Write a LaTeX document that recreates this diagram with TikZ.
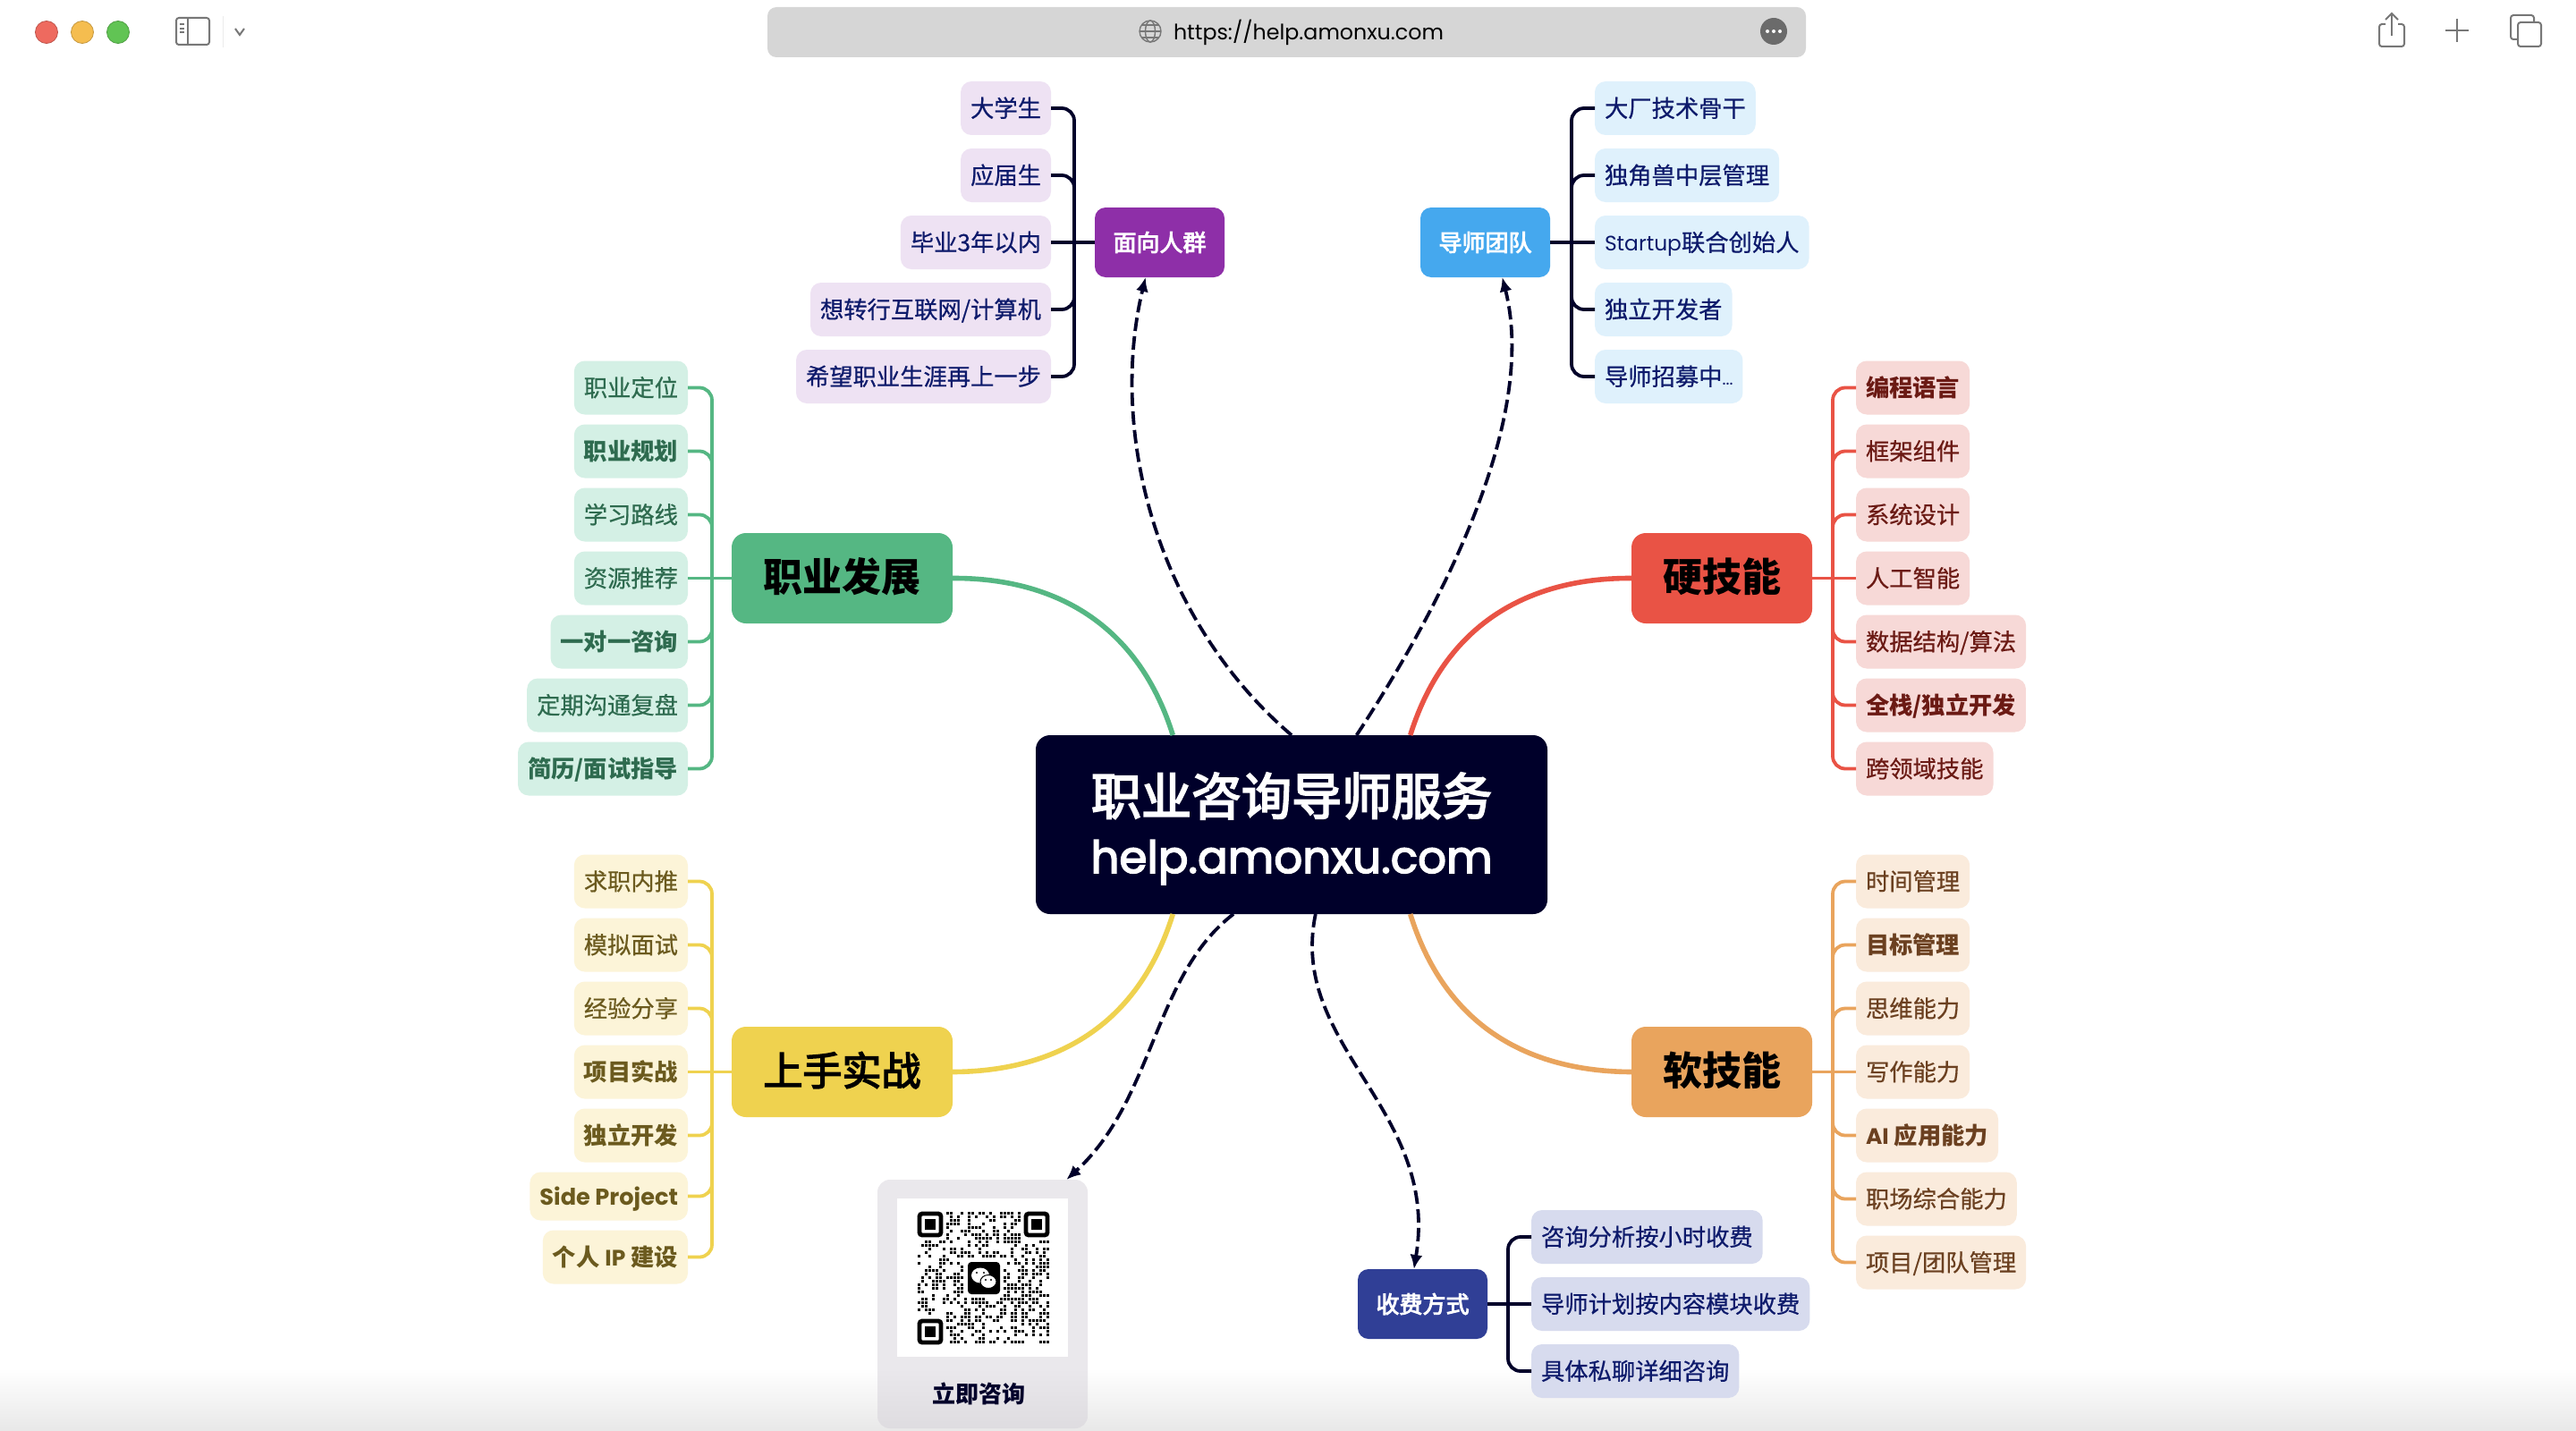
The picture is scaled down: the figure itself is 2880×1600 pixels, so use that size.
\documentclass[tikz,border=0pt]{standalone}
\usepackage{fontspec}
\usepackage{xcolor}
\usepackage{tikz}
\usetikzlibrary{
    arrows.meta,
    positioning,
    calc
}
\setmainfont{Noto Sans CJK SC}
\newfontfamily\latfont[Scale=0.95]{Poppins}
\newfontfamily\leaffont[FakeBold=0.6]{Noto Sans CJK SC}
\newfontfamily\midfont[FakeBold=3.5]{Noto Sans CJK SC}
\newfontfamily\hublat[FakeBold=3]{Poppins}
\newcommand{\lat}[1]{{\latfont #1}}

\definecolor{ink}{HTML}{00002A}
\definecolor{grass}{HTML}{55B783}
\definecolor{grassfill}{HTML}{D4F0E5}
\definecolor{grasstext}{HTML}{2E6B4F}
\definecolor{tomato}{HTML}{E95345}
\definecolor{tomatofill}{HTML}{F7D9D7}
\definecolor{tomatotext}{HTML}{6B1A14}
\definecolor{amber}{HTML}{E9A45D}
\definecolor{amberfill}{HTML}{FAEBDC}
\definecolor{ambertext}{HTML}{6B4020}
\definecolor{butter}{HTML}{EFD24F}
\definecolor{butterfill}{HTML}{FCF4D8}
\definecolor{buttertext}{HTML}{6B5A1E}
\definecolor{violet}{HTML}{8E2FA8}
\definecolor{violetfill}{HTML}{EEE2F3}
\definecolor{sky}{HTML}{45A8EE}
\definecolor{skyfill}{HTML}{DFF1FC}
\definecolor{royal}{HTML}{303F96}
\definecolor{royalfill}{HTML}{D7DBEE}
\definecolor{inktext}{HTML}{0D1A6B}
\definecolor{cardgrey}{HTML}{EAE8EC}
\definecolor{cardshade}{HTML}{DEDCE0}
\definecolor{barfill}{HTML}{D6D6D6}
\definecolor{iconline}{HTML}{777777}
\definecolor{lampred}{HTML}{EE6A5F}
\definecolor{lampamber}{HTML}{F5BD4F}
\definecolor{lampgreen}{HTML}{61C454}

\begin{document}
\begin{tikzpicture}[
        x=0.5pt,
        y=-0.5pt,
        node distance=5.5pt,
        every node/.style={outer sep=0pt},
        hubnode/.style={
            rectangle,
            rounded corners=8pt,
            fill=ink,
            text=white,
            align=center,
            minimum width=286pt,
            minimum height=100pt,
            font=\fontsize{28}{35}\selectfont\midfont
        },
        branch/.style={
            rectangle,
            rounded corners=8pt,
            inner sep=0pt,
            minimum height=50.5pt,
            text height=19.4pt,
            text depth=4.4pt,
            text=black,
            font=\fontsize{22}{22}\selectfont\bfseries
        },
        topic/.style={
            rectangle,
            rounded corners=6pt,
            inner sep=0pt,
            minimum width=72.5pt,
            minimum height=39pt,
            text=white,
            font=\fontsize{13}{13}\selectfont\midfont
        },
        leaf/.style={
            rectangle,
            rounded corners=6pt,
            inner xsep=5.5pt,
            inner ysep=0pt,
            minimum height=30pt,
            text height=11.4pt,
            text depth=1.6pt,
            font=\fontsize{13.15}{13.15}\selectfont\leaffont
        },
        strong/.style={
            font=\fontsize{13.15}{13.15}\selectfont\bfseries
        },
        grassleaf/.style={leaf, fill=grassfill, text=grasstext},
        tomatoleaf/.style={leaf, fill=tomatofill, text=tomatotext},
        amberleaf/.style={leaf, fill=amberfill, text=ambertext},
        butterleaf/.style={leaf, fill=butterfill, text=buttertext},
        violetleaf/.style={leaf, node distance=7.5pt, fill=violetfill, text=inktext},
        skyleaf/.style={leaf, node distance=7.5pt, fill=skyfill, text=inktext},
        royalleaf/.style={leaf, node distance=7.5pt, fill=royalfill, text=inktext},
        riseL/.style={above=of #1.north east, anchor=south east},
        dropL/.style={below=of #1.south east, anchor=north east},
        riseR/.style={above=of #1.north west, anchor=south west},
        dropR/.style={below=of #1.south west, anchor=north west},
        twig/.style={
            draw=#1,
            rounded corners=7pt,
            line width=1.9pt
        },
        limb/.style={
            draw=#1,
            line width=2.8pt
        },
        link/.style={
            draw=ink,
            line width=1.9pt,
            dash pattern=on 7.5pt off 3pt,
            -{Latex[length=8pt,width=7pt]}
        },
        icon/.style={
            draw=iconline,
            line width=1pt,
            rounded corners=1.5pt
        },
        lamp/.style={
            circle,
            minimum size=12.5pt,
            inner sep=0pt,
            line width=0.4pt
        },
        finder/.style={
            draw=black,
            fill=white,
            line width=2.4pt,
            rounded corners=1.5pt
        }
    ]

    \useasboundingbox (0,0) rectangle (2880,1600);
    \fill[white] (0,0) rectangle (2880,1600);
    \shade[top color=white, bottom color=black!9] (0,1530) rectangle (2880,1600);

    \node[lamp, fill=lampred, draw=lampred!80!black] (closelamp) at (52,36) {};
    \node[lamp, fill=lampamber, draw=lampamber!80!black] (minlamp) at (92,36) {};
    \node[lamp, fill=lampgreen, draw=lampgreen!80!black] (maxlamp) at (132,36) {};
    \draw[icon] (197,20) rectangle (234,50);
    \draw[iconline, line width=1pt] (210,20) -- (210,50);
    \foreach \dotrow in {27,32,36}
        \draw[iconline, line width=0.8pt] (201,\dotrow) -- (206,\dotrow);
    \draw[black!8, line width=0.5pt] (249,18) -- (249,53);
    \draw[iconline, line width=1pt] (263,32) -- (268,39) -- (273,32);

    \node[
        rectangle,
        rounded corners=5pt,
        fill=barfill,
        minimum width=580.5pt,
        minimum height=28pt,
        inner sep=0pt
    ] (addressbar) at (1438.5,36) {};
    \node[font=\fontsize{12.5}{12.5}\selectfont\latfont, inner sep=0pt] (address) at (1463,36) {https://help.amonxu.com};
    \draw[iconline, line width=0.7pt] (1286,35) circle [radius=12];
    \draw[iconline, line width=0.7pt] (1286,35) ellipse [x radius=5.5, y radius=12];
    \draw[iconline, line width=0.7pt] (1274,35) -- (1298,35);
    \draw[iconline, line width=0.7pt] (1276,28) -- (1296,28);
    \draw[iconline, line width=0.7pt] (1276,42) -- (1296,42);
    \fill[black!58] (1983,35) circle [radius=15];
    \foreach \morex in {1976,1983,1990}
        \fill[white] (\morex,35) circle [radius=2];

    \draw[icon] (2667,27) -- (2660,27) -- (2660,52) -- (2688,52) -- (2688,27) -- (2681,27);
    \draw[iconline, line width=1pt] (2674,40) -- (2674,16);
    \draw[iconline, line width=1pt] (2667,22) -- (2674,15) -- (2681,22);
    \draw[iconline, line width=1pt] (2734,34) -- (2760,34);
    \draw[iconline, line width=1pt] (2747,21) -- (2747,47);
    \draw[icon] (2815,25) rectangle (2841,52);
    \draw[icon] (2815,44) -- (2807,44) -- (2807,17) -- (2833,17) -- (2833,25);

    \node[hubnode] (hub) at (1444,922)
        {\rule{0pt}{28pt}职业咨询导师服务\\[-2.5pt]{\fontsize{25}{35}\selectfont\hublat help.amonxu.com}};

    \node[branch, fill=grass, minimum width=123.5pt, above left=62.5pt and 46.5pt of hub.north west] (career)
        {职业发展};
    \node[branch, fill=butter, minimum width=123.5pt, below left=63pt and 46.5pt of hub.south west, font=\fontsize{22}{22}\selectfont\midfont] (practice)
        {上手实战};
    \node[branch, fill=tomato, minimum width=101pt, above right=62.5pt and 47pt of hub.north east] (hard)
        {硬技能};
    \node[branch, fill=amber, minimum width=101pt, below right=63pt and 47pt of hub.south east] (soft)
        {软技能};
    \node[topic, fill=violet, above left=256pt and 37.5pt of hub.north] (audience)
        {面向人群};
    \node[topic, fill=sky, above right=256pt and 72pt of hub.north] (mentor)
        {导师团队};
    \node[topic, fill=royal, below right=198.5pt and 37pt of hub.south] (fee)
        {收费方式};

    \node[grassleaf, left=24.5pt of career] (career4) {资源推荐};
    \node[grassleaf, riseL=career4] (career3) {学习路线};
    \node[grassleaf, strong, riseL=career3] (career2) {职业规划};
    \node[grassleaf, riseL=career2] (career1) {职业定位};
    \node[grassleaf, strong, dropL=career4] (career5) {一对一咨询};
    \node[grassleaf, dropL=career5] (career6) {定期沟通复盘};
    \node[grassleaf, strong, dropL=career6] (career7) {简历/面试指导};

    \node[butterleaf, strong, left=24.5pt of practice] (practice4) {项目实战};
    \node[butterleaf, riseL=practice4] (practice3) {经验分享};
    \node[butterleaf, riseL=practice3] (practice2) {模拟面试};
    \node[butterleaf, riseL=practice2] (practice1) {求职内推};
    \node[butterleaf, strong, dropL=practice4] (practice5) {独立开发};
    \node[butterleaf, strong, minimum height=27pt, dropL=practice5] (practice6) {\fontsize{13.5}{13.5}\selectfont\lat{Side Project}};
    \node[butterleaf, strong, dropL=practice6] (practice7) {个人 \lat{IP} 建设};

    \node[tomatoleaf, right=24.5pt of hard] (hard4) {人工智能};
    \node[tomatoleaf, riseR=hard4] (hard3) {系统设计};
    \node[tomatoleaf, riseR=hard3] (hard2) {框架组件};
    \node[tomatoleaf, strong, riseR=hard2] (hard1) {编程语言};
    \node[tomatoleaf, dropR=hard4] (hard5) {数据结构/算法};
    \node[tomatoleaf, strong, dropR=hard5] (hard6) {全栈/独立开发};
    \node[tomatoleaf, dropR=hard6] (hard7) {跨领域技能};

    \node[amberleaf, right=24.5pt of soft] (soft4) {写作能力};
    \node[amberleaf, riseR=soft4] (soft3) {思维能力};
    \node[amberleaf, strong, riseR=soft3] (soft2) {目标管理};
    \node[amberleaf, riseR=soft2] (soft1) {时间管理};
    \node[amberleaf, strong, dropR=soft4] (soft5) {\lat{AI} 应用能力};
    \node[amberleaf, dropR=soft5] (soft6) {职场综合能力};
    \node[amberleaf, dropR=soft6] (soft7) {项目/团队管理};

    \node[violetleaf, left=24.5pt of audience] (audience3) {毕业3年以内};
    \node[violetleaf, riseL=audience3] (audience2) {应届生};
    \node[violetleaf, riseL=audience2] (audience1) {大学生};
    \node[violetleaf, dropL=audience3] (audience4) {想转行互联网/计算机};
    \node[violetleaf, dropL=audience4] (audience5) {希望职业生涯再上一步};

    \node[skyleaf, right=25pt of mentor] (mentor3) {{\fontsize{12.3}{12.3}\selectfont\lat{Startup}}联合创始人};
    \node[skyleaf, riseR=mentor3] (mentor2) {独角兽中层管理};
    \node[skyleaf, riseR=mentor2] (mentor1) {大厂技术骨干};
    \node[skyleaf, dropR=mentor3] (mentor4) {独立开发者};
    \node[skyleaf, dropR=mentor4] (mentor5) {导师招募中{\fontsize{10}{10}\selectfont\lat{...}}};

    \node[royalleaf, right=24.5pt of fee] (fee2) {导师计划按内容模块收费};
    \node[royalleaf, riseR=fee2] (fee1) {咨询分析按小时收费};
    \node[royalleaf, dropR=fee2] (fee3) {具体私聊详细咨询};

    \coordinate (careerbus) at ($(career.west)+(-22,0)$);
    \coordinate (practicebus) at ($(practice.west)+(-22,0)$);
    \coordinate (hardbus) at ($(hard.east)+(23,0)$);
    \coordinate (softbus) at ($(soft.east)+(23,0)$);
    \coordinate (audiencebus) at ($(audience.west)+(-23,0)$);
    \coordinate (mentorbus) at ($(mentor.east)+(24,0)$);
    \coordinate (feebus) at ($(fee.east)+(23,0)$);

    \draw[twig=grass] (career.west) -- (career4.east);
    \foreach \leafname in {career1,career2,career3,career5,career6,career7}
        \draw[twig=grass] (careerbus) |- (\leafname.east);
    \draw[twig=butter] (practice.west) -- (practice4.east);
    \foreach \leafname in {practice1,practice2,practice3,practice5,practice6,practice7}
        \draw[twig=butter] (practicebus) |- (\leafname.east);
    \draw[twig=tomato] (hard.east) -- (hard4.west);
    \foreach \leafname in {hard1,hard2,hard3,hard5,hard6,hard7}
        \draw[twig=tomato] (hardbus) |- (\leafname.west);
    \draw[twig=amber] (soft.east) -- (soft4.west);
    \foreach \leafname in {soft1,soft2,soft3,soft5,soft6,soft7}
        \draw[twig=amber] (softbus) |- (\leafname.west);
    \draw[twig=ink, line width=2.4pt] (audience.west) -- (audience3.east);
    \foreach \leafname in {audience1,audience2,audience4,audience5}
        \draw[twig=ink] (audiencebus) |- (\leafname.east);
    \draw[twig=ink, line width=2.4pt] (mentor.east) -- (mentor3.west);
    \foreach \leafname in {mentor1,mentor2,mentor4,mentor5}
        \draw[twig=ink] (mentorbus) |- (\leafname.west);
    \draw[twig=ink, line width=2.4pt] (fee.east) -- (fee2.west);
    \foreach \leafname in {fee1,fee3}
        \draw[twig=ink] (feebus) |- (\leafname.west);

    \draw[limb=grass] (hub.143) .. controls (1270,690) and (1170,646) .. (career.east);
    \draw[limb=tomato] (hub.37) .. controls (1618,690) and (1718,646) .. (hard.west);
    \draw[limb=butter] (hub.-143) .. controls (1270,1155) and (1170,1198) .. (practice.east);
    \draw[limb=amber] (hub.-37) .. controls (1618,1155) and (1718,1198) .. (soft.west);

    \node[
        rectangle,
        rounded corners=7pt,
        fill=cardgrey,
        minimum width=117.5pt,
        minimum height=139pt,
        below left=148.5pt and 114pt of hub.south
    ] (qrcard) {};
    \begin{scope}
        \clip[rounded corners=7pt] (qrcard.north west) rectangle (qrcard.south east);
        \shade[top color=cardgrey, bottom color=cardshade] (qrcard.west |- 0,1530) rectangle (qrcard.south east);
    \end{scope}
    \node[
        rectangle,
        fill=white,
        minimum width=95.5pt,
        minimum height=88.5pt,
        below=10.5pt of qrcard.north
    ] (qrpanel) {};
    \node[font=\fontsize{13}{13}\selectfont\bfseries, text=ink, inner sep=0pt] (qrlabel) at (1094,1558) {立即咨询};

    \pgfmathsetseed{4217}
    \foreach \col in {0,...,36}
        \foreach \row in {0,...,36} {
            \pgfmathsetmacro{\qrdraw}{rnd}
            \pgfmathtruncatemacro{\qrskip}{
                (\col<8 && \row<8) || (\col>28 && \row<8) || (\col<8 && \row>28)
                || (\col>12 && \col<24 && \row>12 && \row<24)}
            \ifnum\qrskip=0
                \ifdim\qrdraw pt<0.46pt
                    \fill[black] (1026+\col*4,1355+\row*4) rectangle ++(3.3,3.3);
                \fi
            \fi
        }
    \foreach \finderx/\findery in {1026/1355,1145/1355,1026/1475} {
        \draw[finder] (\finderx+2,\findery+2) rectangle ++(24,24);
        \fill[black] (\finderx+8,\findery+8) rectangle ++(12,12);
    }
    \fill[black, rounded corners=2pt] (1082,1411) rectangle (1118,1447);
    \fill[white] (1096,1426) ellipse [x radius=10, y radius=8.5];
    \draw[black, fill=white, line width=0.5pt] (1105,1433) ellipse [x radius=9, y radius=7.5];
    \foreach \eyex/\eyey in {1092/1423,1100/1423,1102/1431,1108/1431}
        \fill[black] (\eyex,\eyey) circle [radius=1.2];

    \draw[link] (hub.90) .. controls (1290,690) and (1240,480) .. (audience.-112);
    \draw[link] (hub.54) .. controls (1610,680) and (1720,470) .. (mentor.-64);
    \draw[link] (hub.-123) .. controls (1290,1090) and (1290,1230) .. (qrcard.56);
    \draw[link] (hub.-75) .. controls (1440,1170) and (1610,1240) .. (fee.104);

\end{tikzpicture}
\end{document}
